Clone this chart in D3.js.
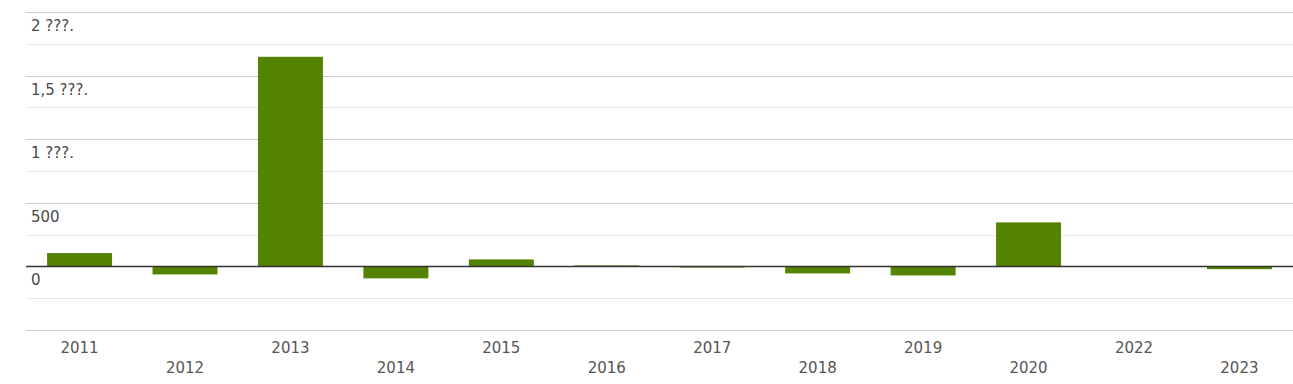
<!DOCTYPE html>
<html>
<head>
<meta charset="utf-8">
<script src="https://cdn.jsdelivr.net/npm/d3@7"></script>
<style>
  body { margin: 0; background: #fff; }
  text { font-family: "DejaVu Sans", sans-serif; }
</style>
</head>
<body>
<div class="chart"></div>
<script>
// Data
var years = ["2011", "2012", "2013", "2014", "2015", "2016", "2017", "2018", "2019", "2020", "2022", "2023"];
var values = [105, -63, 1648, -94, 55, 8, -9, -55, -71, 346, 0, -22];
var majorTicks = [2000, 1500, 1000, 500, 0];
var majorLabels = ["2 ???.", "1,5 ???.", "1 ???.", "500", "0"];
var minorTicks = [1750, 1250, 750, 250, -250, -500];

var svgWidth = 1293;
var svgHeight = 384;

var margin = { top: 12, right: 0, bottom: 54, left: 26 };
var width = svgWidth - margin.left - margin.right;
var height = svgHeight - margin.top - margin.bottom;

var svg = d3.select(".chart")
  .append("svg")
  .attr("width", svgWidth)
  .attr("height", svgHeight);

var chartGroup = svg.append("g")
  .attr("transform", `translate(${margin.left}, ${margin.top})`);

// scales
var xScale = d3.scaleBand()
  .domain(years)
  .range([0, width])
  .paddingInner(0.384)
  .paddingOuter(0.2);

var yScale = d3.scaleLinear()
  .domain([-500, 2000])
  .range([height, 0]);

// minor grid lines
chartGroup.selectAll(".minor")
  .data(minorTicks)
  .enter()
  .append("line")
  .attr("x1", 0)
  .attr("x2", width)
  .attr("y1", d => Math.round(yScale(d)) + 0.5)
  .attr("y2", d => Math.round(yScale(d)) + 0.5)
  .attr("stroke", d => d === -500 ? "#cccccc" : "#e8e8e8")
  .attr("stroke-width", 1);

// major grid lines (not zero)
chartGroup.selectAll(".major")
  .data(majorTicks.filter(d => d !== 0))
  .enter()
  .append("line")
  .attr("x1", 0)
  .attr("x2", width)
  .attr("y1", d => Math.round(yScale(d)) + 0.5)
  .attr("y2", d => Math.round(yScale(d)) + 0.5)
  .attr("stroke", "#cccccc")
  .attr("stroke-width", 1);

// bars
chartGroup.selectAll("rect")
  .data(values)
  .enter()
  .append("rect")
  .attr("x", (d, i) => xScale(years[i]))
  .attr("width", xScale.bandwidth())
  .attr("y", d => yScale(Math.max(0, d)))
  .attr("height", d => Math.abs(yScale(d) - yScale(0)))
  .attr("fill", "#548302");

// zero line
chartGroup.append("line")
  .attr("x1", 0)
  .attr("x2", width)
  .attr("y1", yScale(0))
  .attr("y2", yScale(0))
  .attr("stroke", "#333333")
  .attr("stroke-width", 1.5);

// y labels sit just below their grid line
chartGroup.selectAll(".ylabel")
  .data(majorTicks)
  .enter()
  .append("text")
  .attr("x", 5)
  .attr("y", d => yScale(d) + 19)
  .attr("font-size", "15px")
  .attr("fill", "#4a4a4a")
  .text((d, i) => majorLabels[i]);

// x labels in two staggered rows
chartGroup.selectAll(".xlabel")
  .data(years)
  .enter()
  .append("text")
  .attr("x", d => xScale(d) + xScale.bandwidth() / 2)
  .attr("y", (d, i) => height + (i % 2 === 0 ? 23 : 43))
  .attr("text-anchor", "middle")
  .attr("font-size", "15px")
  .attr("fill", "#555")
  .text(d => d);
</script>
</body>
</html>
